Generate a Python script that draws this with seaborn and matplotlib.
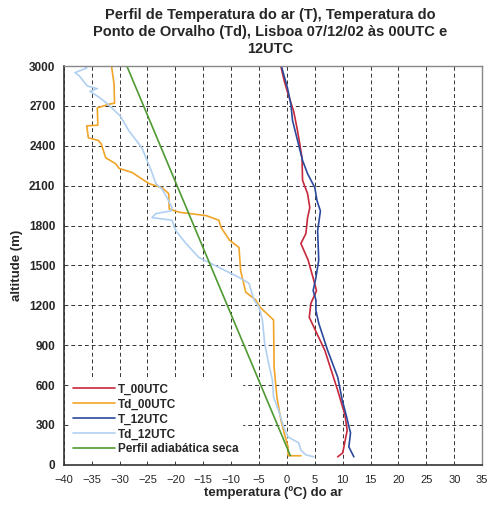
import numpy as np
import pandas as pd
import matplotlib
matplotlib.use('Agg')
import matplotlib.pyplot as plt
import seaborn as sns

# T_00UTC (temperatura do ar, 00UTC)
t00_alt = [60, 90, 260, 375, 560, 860, 1110, 1215, 1310, 1390, 1540, 1665, 1740,
           1860, 1935, 2040, 2140, 2310, 2415, 2535, 2660, 2790, 2890, 3000]
t00_temp = [9.1, 10.0, 10.8, 10.4, 9.1, 6.8, 4.0, 4.3, 5.3, 4.8, 3.8, 2.5, 3.4,
            3.7, 4.1, 3.7, 2.8, 2.7, 2.3, 1.8, 1.2, 0.2, -0.5, -1.1]

# Td_00UTC (ponto de orvalho, 00UTC)
td00_alt = [68, 68, 135, 240, 340, 510, 735, 1090, 1185, 1240, 1300, 1460, 1635, 1690,
            1785, 1840, 1875, 1900, 1925, 2040, 2085, 2115, 2200, 2230, 2265, 2310,
            2415, 2440, 2460, 2550, 2555, 2685, 2715, 2720, 2865, 2985, 3000]
td00_temp = [2.5, 0.2, 0.2, -0.5, -1.1, -1.8, -2.3, -2.4, -4.8, -5.6, -7.4, -8.3, -8.6, -10.3,
             -11.8, -12.2, -14.5, -19.3, -21.1, -21.2, -22.4, -24.7, -27.8, -30.1, -30.7, -32.5,
             -33.3, -33.8, -35.6, -35.9, -33.9, -34.0, -31.7, -30.9, -31.0, -31.4, -31.4]

# T_12UTC
t12_alt = [60, 135, 240, 360, 490, 660, 860, 1065, 1160, 1240, 1310, 1410, 1540, 1760,
           1910, 1985, 2085, 2190, 2290, 2440, 2590, 2715, 2835, 3000]
t12_temp = [12.0, 11.1, 11.4, 10.7, 9.9, 9.1, 7.3, 5.7, 5.2, 5.2, 4.7, 5.2, 5.7, 5.5,
            6.0, 5.4, 5.0, 3.7, 2.8, 1.9, 1.0, 0.7, 0.1, -1.0]

# Td_12UTC
td12_alt = [60, 75, 110, 165, 210, 285, 410, 510, 635, 785, 915, 1090, 1185, 1240, 1365,
            1410, 1485, 1560, 1670, 1760, 1840, 1860, 1890, 1910, 1935, 2010, 2075, 2115,
            2210, 2385, 2510, 2625, 2720, 2760, 2810, 2830, 2850, 2925, 2950, 2985, 3000]
td12_temp = [4.8, 3.4, 2.5, 2.1, 0.2, -0.6, -1.5, -2.4, -2.6, -3.4, -4.0, -4.4, -5.0, -5.9, -6.8,
             -8.6, -12.2, -15.8, -18.2, -19.9, -20.6, -24.2, -23.5, -20.8, -20.6, -21.5, -22.4, -23.5,
             -24.3, -26.0, -28.3, -29.9, -32.3, -33.5, -35.3, -34.0, -35.8, -37.2, -38.0, -35.9, -36.3]

# Perfil adiabatica seca
ad_alt = [70, 3000]
ad_temp = [0.6, -28.7]

series = [
    ('T_00UTC', t00_temp, t00_alt, '#c8283c'),
    ('Td_00UTC', td00_temp, td00_alt, '#f0a428'),
    ('T_12UTC', t12_temp, t12_alt, '#2c4a9c'),
    ('Td_12UTC', td12_temp, td12_alt, '#b0d0f2'),
    ('Perfil adiabática seca', ad_temp, ad_alt, '#4f9a32'),
]

sns.set_style('white')
plt.rcParams['font.family'] = ['Liberation Sans', 'DejaVu Sans']

fig = plt.figure(figsize=(4.91, 5.08), dpi=100)
ax = fig.add_axes([0.130, 0.085, 0.852, 0.785])

for name, temp, alt, col in series:
    sns.lineplot(x=temp, y=alt, sort=False, estimator=None, color=col,
                 linewidth=1.2, label=name, ax=ax)

ax.set_xlim(-40, 35)
ax.set_ylim(0, 3000)
ax.set_xticks(np.arange(-40, 36, 5))
ax.set_yticks(np.arange(0, 3001, 300))
ax.tick_params(axis='x', labelsize=8, pad=7, length=0)
ax.tick_params(axis='y', labelsize=8.5, pad=6, length=0)
for lab in ax.get_yticklabels():
    lab.set_fontweight('bold')

ax.grid(True, color='#333333', linestyle=(0, (4, 3)), linewidth=0.7)
for side in ['left', 'bottom']:
    ax.spines[side].set_color('#333333')
    ax.spines[side].set_linewidth(1.2)
for side in ['right', 'top']:
    ax.spines[side].set_color('#888888')
    ax.spines[side].set_linewidth(1.0)

ax.set_xlabel('temperatura (ºC) do ar', fontsize=9.5, fontweight='bold', labelpad=1)
ax.set_ylabel('altitude (m)', fontsize=9.5, fontweight='bold', labelpad=4)
fig.suptitle('Perfil de Temperatura do ar (T), Temperatura do\n'
             'Ponto de Orvalho (Td), Lisboa 07/12/02 às 00UTC e\n12UTC',
             x=0.55, y=0.985, fontsize=10.5, fontweight='bold', linespacing=1.3)

leg = ax.legend(loc='lower left', bbox_to_anchor=(0.0, 0.0), fontsize=8.5,
                frameon=True, framealpha=1, edgecolor='white', fancybox=False,
                handlelength=3.5, handletextpad=0.3, labelspacing=0.25,
                borderpad=0.3)
for t in leg.get_texts():
    t.set_fontweight('bold')

fig.savefig('out.png', dpi=100, facecolor='white')
